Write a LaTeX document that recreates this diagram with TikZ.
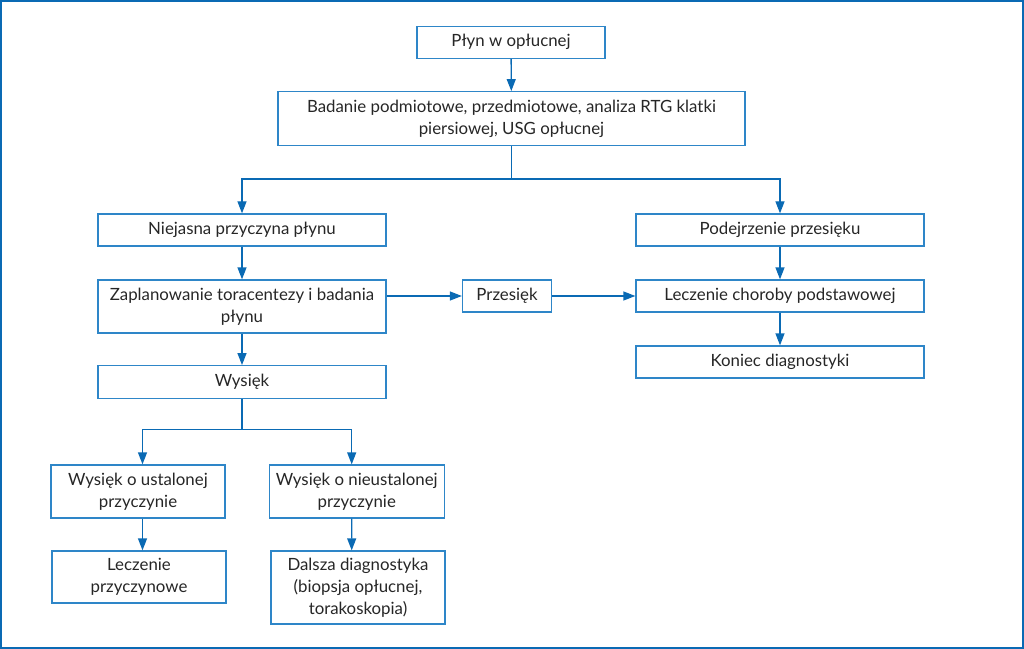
\documentclass[tikz,border=0pt]{standalone}
\usepackage{fontspec}
\setmainfont{Lato}
\usetikzlibrary{arrows.meta}
\definecolor{boxc}{RGB}{46,134,200}
\definecolor{linec}{RGB}{10,106,180}
\begin{document}
\begin{tikzpicture}[x=1bp,y=-1bp,
  box/.style={draw=boxc, line width=1.3bp, align=center, inner sep=0pt,
    font=\fontsize{16.9}{22}\selectfont, text=black!85},
  arr/.style={draw=linec, line width=1.3bp, -{Triangle[width=9bp,length=12bp]}},
  ln/.style={draw=linec, line width=1.3bp}]
\useasboundingbox (0,0) rectangle (1024,649);
\draw[draw=linec, line width=2bp] (1,1) rectangle (1023,648);
\node[box, minimum width=188bp, minimum height=32bp] (p) at (511,42.2) {Płyn w opłucnej};
\node[box, minimum width=467bp, minimum height=54bp] (b) at (511.5,118.7) {Badanie podmiotowe, przedmiotowe, analiza RTG klatki\\piersiowej, USG opłucnej};
\node[box, minimum width=288bp, minimum height=32bp] (n) at (242,230) {Niejasna przyczyna płynu};
\node[box, minimum width=288bp, minimum height=53bp] (z) at (242,306.5) {Zaplanowanie toracentezy i badania\\płynu};
\node[box, minimum width=288bp, minimum height=32.6bp] (w) at (242,382) {Wysięk};
\node[box, minimum width=89bp, minimum height=32bp] (prz) at (507,296) {Przesięk};
\node[box, minimum width=288bp, minimum height=32bp] (pod) at (780,230) {Podejrzenie przesięku};
\node[box, minimum width=288bp, minimum height=32bp] (lcp) at (780,296) {Leczenie choroby podstawowej};
\node[box, minimum width=288bp, minimum height=32bp] (kon) at (780,362) {Koniec diagnostyki};
\node[box, minimum width=174bp, minimum height=53bp] (wu) at (138,491.5) {Wysięk o ustalonej\\przyczynie};
\node[box, minimum width=175bp, minimum height=53bp] (wn) at (356.7,491.5) {Wysięk o nieustalonej\\przyczynie};
\node[box, minimum width=174bp, minimum height=52bp] (lp) at (139,577) {Leczenie\\przyczynowe};
\node[box, minimum width=174bp, minimum height=73bp] (d) at (358,587.5) {Dalsza diagnostyka\\(biopsja opłucnej,\\torakoskopia)};
\coordinate (j1) at (511.5,179);
\coordinate (j2) at (242,429.3);
\draw[arr] (p) -- (b);
\draw[ln] (b.south) -- (j1);
\draw[arr] (j1) -| (n.north);
\draw[arr] (j1) -| (pod.north);
\draw[arr] (n) -- (z);
\draw[arr] (z.east |- prz.west) -- (prz.west);
\draw[arr] (prz.east) -- (lcp.west);
\draw[arr] (pod) -- (lcp);
\draw[arr] (lcp) -- (kon);
\draw[arr] (z) -- (w);
\draw[ln] (w.south) -- (j2);
\draw[arr] (j2) -| ([xshift=4.5bp]wu.north);
\draw[arr] (j2) -| ([xshift=-5bp]wn.north);
\draw[arr] ([xshift=4.5bp]wu.south) -- ([xshift=3.5bp]lp.north);
\draw[arr] ([xshift=-5bp]wn.south) -- ([xshift=-6.3bp]d.north);
\end{tikzpicture}
\end{document}
